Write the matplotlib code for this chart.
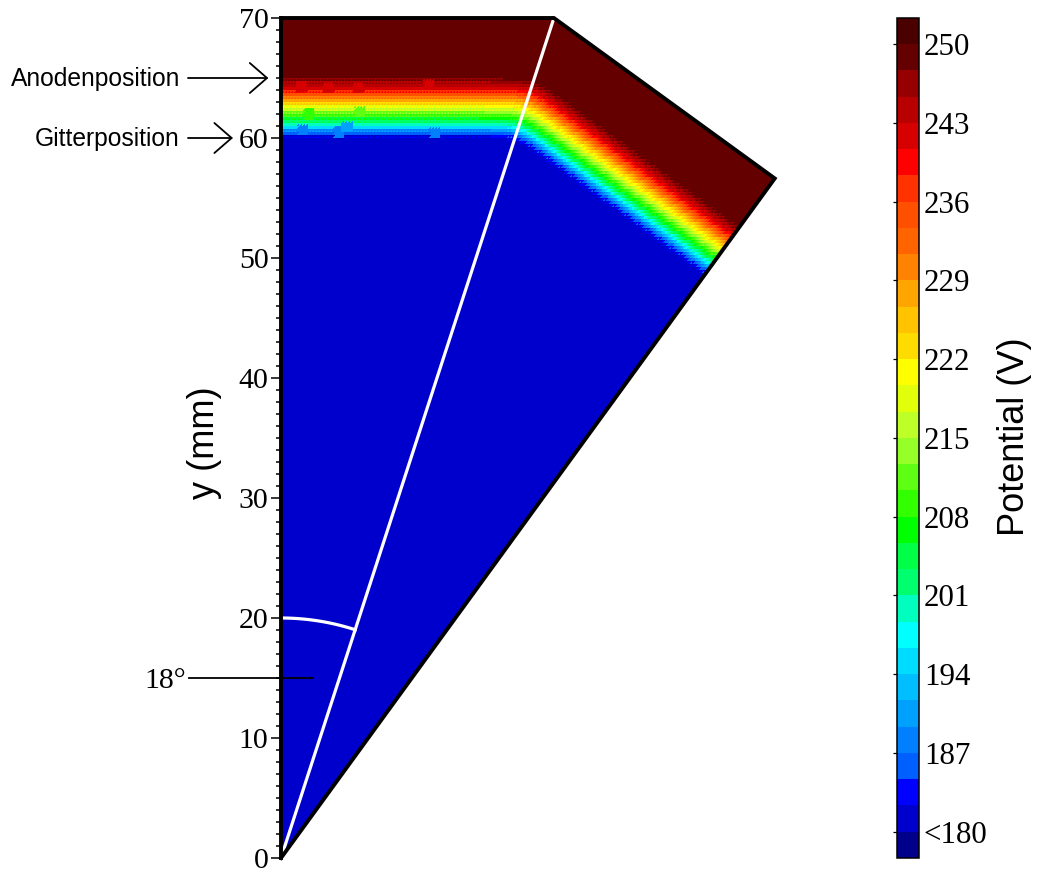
import numpy as np
import matplotlib
matplotlib.use('Agg')
import matplotlib.pyplot as plt
from matplotlib.colors import ListedColormap, BoundaryNorm
from matplotlib.patches import Polygon
from matplotlib.tri import Triangulation

# Potential profile read across the band (distance from apex in mm, volts)
profile_dist = [0, 59.95, 60.5, 61.1, 61.75, 62.75, 64.17, 65.05, 80]
profile_volt = [181, 181, 187, 199, 208, 222, 242, 250, 250]

# Small irregular spots in the flat part of the band
spot_x = [1.7, 3.9, 6.4, 12.3, 2.3, 6.6, 1.8, 4.8, 5.5, 12.8]
spot_y = [64.3, 64.2, 64.2, 64.4, 62.0, 62.2, 60.7, 60.5, 60.9, 60.4]
spot_v = [242, 242, 242, 242, 208, 212, 187, 187, 190, 187]

# Colorbar colours, bottom to top
level_colors = [
    (0, 0, 139), (0, 0, 205), (0, 0, 255), (0, 96, 255),
    (0, 128, 255), (0, 160, 255), (0, 190, 255), (0, 220, 255),
    (0, 255, 255), (0, 255, 190), (0, 255, 110), (0, 255, 70),
    (0, 255, 0), (50, 255, 0), (95, 255, 20), (150, 255, 40),
    (190, 255, 40), (225, 255, 10), (255, 255, 0), (255, 220, 0),
    (255, 195, 0), (255, 165, 0), (255, 130, 0), (255, 100, 0),
    (255, 80, 0), (255, 50, 0), (255, 0, 0), (215, 0, 0),
    (185, 0, 0), (150, 0, 0), (100, 0, 0), (75, 0, 0),
]
cbar_ticks = [180, 187, 194, 201, 208, 215, 222, 229, 236, 243, 250]
cbar_labels = ['<180', '187', '194', '201', '208', '215', '222', '229', '236', '243', '250']
y_ticks = [0, 10, 20, 30, 40, 50, 60, 70]

half_angle = np.radians(18)
radius = 70
serif = 'Liberation Serif'
sans = 'Liberation Sans'

W, H = 1039, 873
fig = plt.figure(figsize=(W / 100, H / 100), dpi=100)
ax = fig.add_axes([281 / W, 15 / H, 504 / W, 840 / H])
ax.set_xlim(0, 42)
ax.set_ylim(0, 70)

# outline of the wedge
corner_x = radius * np.tan(half_angle)
tip_x = radius * np.sin(2 * half_angle)
tip_y = radius * np.cos(2 * half_angle)
outline = np.array([[0, 0], [0, radius], [corner_x, radius], [tip_x, tip_y]])

# triangle mesh over the wedge, flat shaded
gx, gy = np.meshgrid(np.arange(0, 42.26, 0.25), np.arange(0, 70.26, 0.25))
nrow, ncol = gx.shape
idx = np.arange(nrow * ncol).reshape(nrow, ncol)
lower = np.c_[idx[:-1, :-1].ravel(), idx[:-1, 1:].ravel(), idx[1:, 1:].ravel()]
upper = np.c_[idx[:-1, :-1].ravel(), idx[1:, 1:].ravel(), idx[1:, :-1].ravel()]
tris = np.vstack([lower, upper])
tri = Triangulation(gx.ravel(), gy.ravel(), tris)
cx = gx.ravel()[tris].mean(axis=1)
cy = gy.ravel()[tris].mean(axis=1)

p1 = np.clip(cy, 0.01, None)
p2 = np.clip(cx * np.sin(2 * half_angle) + cy * np.cos(2 * half_angle), 0.01, None)
k = 160
big = np.maximum(p1, p2)
dist = big * ((p1 / big) ** k + (p2 / big) ** k) ** (1 / k)
volts = np.interp(dist, profile_dist, profile_volt)
# the two triangle kinds land on neighbouring colour levels, gives the mottled look
volts[:len(lower)] += 1.2
volts[len(lower):] -= 1.2
volts = np.clip(volts, 180.5, 249.5)
for sx, sy, sv in zip(spot_x, spot_y, spot_v):
    near = (np.abs(cx - sx) < 0.45) & (np.abs(cy - sy) < 0.45)
    volts[near] = sv

step = 7 / 3
bounds = [180 - step] + [180 + step * i for i in range(31)]
bounds[-1] = 250
bounds.append(250 + step)
cmap = ListedColormap([tuple(c / 255 for c in rgb) for rgb in level_colors])
norm = BoundaryNorm(bounds, cmap.N)

mesh = ax.tripcolor(tri, facecolors=volts, cmap=cmap, norm=norm, edgecolors='none', antialiased=False)
mesh.set_clip_path(Polygon(outline, transform=ax.transData))

# white marker of the 18 degree line and arc
ax.plot([0, corner_x], [0, radius], color='white', lw=2.3, solid_capstyle='butt')
arc_t = np.linspace(0, half_angle, 40)
ax.plot(20 * np.sin(arc_t), 20 * np.cos(arc_t), color='white', lw=2.3)

ax.plot([0, corner_x, tip_x, 0], [radius, radius, tip_y, 0], color='black', lw=2.8,
        clip_on=False, solid_joinstyle='miter')

for s in ['top', 'right', 'bottom']:
    ax.spines[s].set_visible(False)
ax.spines['left'].set_linewidth(2.8)
ax.xaxis.set_visible(False)
ax.set_yticks(y_ticks)
ax.set_yticks(np.arange(0, 71, 1), minor=True)
ax.tick_params(axis='y', which='major', length=7, width=1.1, pad=2)
ax.tick_params(axis='y', which='minor', length=3.5, width=1.1)
for lab in ax.get_yticklabels():
    lab.set_fontfamily(serif)
    lab.set_fontsize(21.5)
ax.patch.set_visible(False)

# labels and arrows
arrow = '->,head_length=0.62,head_width=0.54'
ax.annotate('', xy=(-1.05, 65), xytext=(-7.75, 65), annotation_clip=False,
            arrowprops=dict(arrowstyle=arrow, lw=1.3, color='black', mutation_scale=20, shrinkA=0, shrinkB=0))
ax.annotate('', xy=(-4.0, 60), xytext=(-7.75, 60), annotation_clip=False,
            arrowprops=dict(arrowstyle=arrow, lw=1.3, color='black', mutation_scale=20, shrinkA=0, shrinkB=0))
ax.plot([-7.67, 2.67], [15, 15], color='black', lw=1.3, clip_on=False)

fig.text(180 / W, 1 - 79 / H, 'Anodenposition', family=sans, fontsize=17.7, ha='right', va='center')
fig.text(180 / W, 1 - 139 / H, 'Gitterposition', family=sans, fontsize=17.7, ha='right', va='center')
fig.text(186 / W, 1 - 681 / H, '18°', family=serif, fontsize=21.5, ha='right', va='center')
fig.text(204 / W, 1 - 443 / H, 'y (mm)', family=sans, fontsize=26, rotation=90, ha='center', va='center')
fig.text(1015 / W, 1 - 437 / H, 'Potential (V)', family=sans, fontsize=26, rotation=90, ha='center', va='center')

# colorbar
cax = fig.add_axes([897 / W, 15 / H, 22 / W, 840 / H])
cb = fig.colorbar(plt.cm.ScalarMappable(norm=norm, cmap=cmap), cax=cax, spacing='proportional',
                  ticks=cbar_ticks, drawedges=False)
cb.minorticks_off()
cb.ax.set_yticklabels(cbar_labels, family=serif, fontsize=22.3)
cb.ax.tick_params(axis='y', left=True, right=False, labelleft=False, labelright=True,
                  length=3, width=0.9, pad=0.5)
cb.outline.set_linewidth(1.1)

fig.savefig('out.png', dpi=100)
